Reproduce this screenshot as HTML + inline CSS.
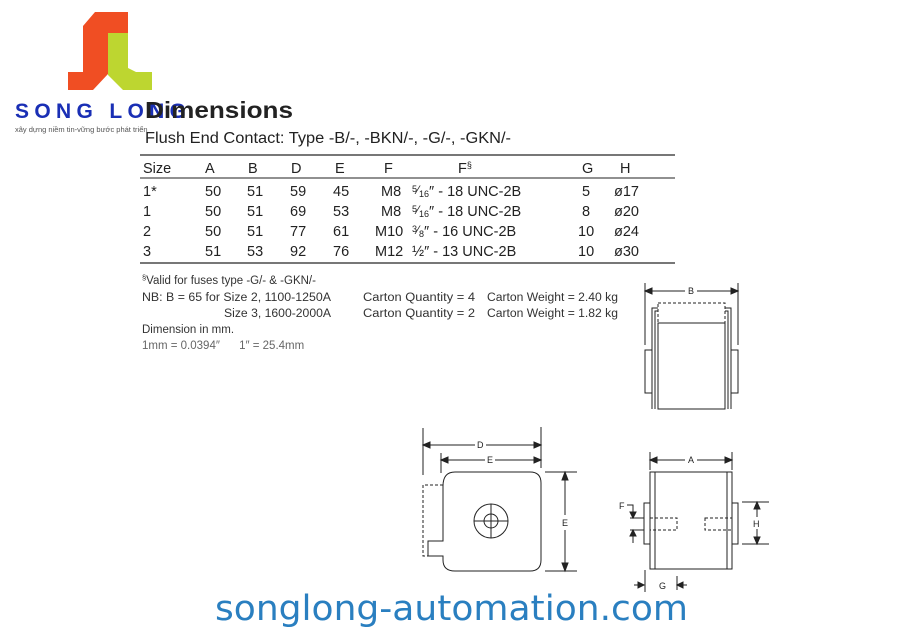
<!DOCTYPE html>
<html><head><meta charset="utf-8"><style>
body{margin:0;background:#fff;}
svg{display:block;font-family:"Liberation Sans",Arial,sans-serif;}
</style></head><body>
<svg width="907" height="644" viewBox="0 0 907 644">
<polygon points="95,12 128,12 128,33 108,33 108,74 93,90 68,90 68,72 83,72 83,26" fill="#f04e23"/>
<polygon points="108,33 128,33 128,68 136,72 152,72 152,90 123,90 108,75" fill="#bdd630"/>
<text x="15" y="118" font-size="21" font-weight="bold" fill="#1a2fb5" letter-spacing="6" textLength="177">SONG LONG</text>
<text x="15" y="132" font-size="7.5" fill="#555">xây dựng niềm tin-vững bước phát triển</text>
<text x="145" y="118" font-size="23" font-weight="bold" fill="#222" textLength="148" lengthAdjust="spacingAndGlyphs">Dimensions</text>
<text x="145" y="143" font-size="15.5" fill="#222" textLength="366" lengthAdjust="spacingAndGlyphs">Flush End Contact: Type -B/-, -BKN/-, -G/-, -GKN/-</text>
<line x1="140" y1="155" x2="675" y2="155" stroke="#777" stroke-width="2"/>
<line x1="140" y1="178" x2="675" y2="178" stroke="#222" stroke-width="1"/>
<line x1="140" y1="263" x2="675" y2="263" stroke="#777" stroke-width="2"/>
<g font-size="14.5" fill="#222">
<text x="143" y="173">Size</text><text x="205" y="173">A</text><text x="248" y="173">B</text><text x="291" y="173">D</text><text x="335" y="173">E</text><text x="384" y="173">F</text><text x="458" y="173">F<tspan font-size="9" dy="-5">§</tspan></text><text x="582" y="173">G</text><text x="620" y="173">H</text>
<text x="143" y="196">1*</text><text x="205" y="196">50</text><text x="247" y="196">51</text><text x="290" y="196">59</text><text x="333" y="196">45</text><text x="381" y="196">M8</text><text x="412" y="196"><tspan font-size="9" dy="-4">5</tspan><tspan font-size="12" dy="2">⁄</tspan><tspan font-size="9" dy="3">16</tspan><tspan dy="-1">″ - 18 UNC-2B</tspan></text><text x="582" y="196">5</text><text x="614" y="196">ø17</text>
<text x="143" y="216">1</text><text x="205" y="216">50</text><text x="247" y="216">51</text><text x="290" y="216">69</text><text x="333" y="216">53</text><text x="381" y="216">M8</text><text x="412" y="216"><tspan font-size="9" dy="-4">5</tspan><tspan font-size="12" dy="2">⁄</tspan><tspan font-size="9" dy="3">16</tspan><tspan dy="-1">″ - 18 UNC-2B</tspan></text><text x="582" y="216">8</text><text x="614" y="216">ø20</text>
<text x="143" y="236">2</text><text x="205" y="236">50</text><text x="247" y="236">51</text><text x="290" y="236">77</text><text x="333" y="236">61</text><text x="375" y="236">M10</text><text x="412" y="236"><tspan font-size="9" dy="-4">3</tspan><tspan font-size="12" dy="2">⁄</tspan><tspan font-size="9" dy="3">8</tspan><tspan dy="-1">″  - 16 UNC-2B</tspan></text><text x="578" y="236">10</text><text x="614" y="236">ø24</text>
<text x="143" y="256">3</text><text x="205" y="256">51</text><text x="247" y="256">53</text><text x="290" y="256">92</text><text x="333" y="256">76</text><text x="375" y="256">M12</text><text x="412" y="256">½″  - 13 UNC-2B</text><text x="578" y="256">10</text><text x="614" y="256">ø30</text>
</g>
<g font-size="11.5" fill="#333">
<text x="142" y="284"><tspan font-size="7.5" dy="-4">§</tspan><tspan dy="4">Valid for fuses type -G/- &amp; -GKN/-</tspan></text>
<text x="142" y="301" textLength="189" lengthAdjust="spacingAndGlyphs">NB: B = 65 for Size 2, 1100-1250A</text>
<text x="224" y="317" textLength="107" lengthAdjust="spacingAndGlyphs">Size 3, 1600-2000A</text>
<text x="363" y="301" textLength="112" lengthAdjust="spacingAndGlyphs">Carton Quantity = 4</text><text x="487" y="301" textLength="131" lengthAdjust="spacingAndGlyphs">Carton Weight = 2.40 kg</text>
<text x="363" y="317" textLength="112" lengthAdjust="spacingAndGlyphs">Carton Quantity = 2</text><text x="487" y="317" textLength="131" lengthAdjust="spacingAndGlyphs">Carton Weight = 1.82 kg</text>
<text x="142" y="333">Dimension in mm.</text>
<text x="142" y="349" fill="#666" xml:space="preserve">1mm = 0.0394″      1″ = 25.4mm</text>
</g>
<g stroke="#222" fill="none" stroke-width="1">
<line x1="645" y1="283" x2="645" y2="345"/><line x1="738" y1="283" x2="738" y2="345"/>
<line x1="647" y1="291" x2="685" y2="291"/><line x1="697" y1="291" x2="736" y2="291"/>
<polygon points="645,291 652,288 652,294" fill="#222"/><polygon points="738,291 731,288 731,294" fill="#222"/>
<path d="M652,409 V308 H658 M731,409 V308 H725"/>
<path d="M655,409 V311 H658 M728,409 V311 H725"/>
<rect x="658" y="323" width="67" height="86"/>
<rect x="658" y="303" width="67" height="20" stroke-dasharray="3,2"/>
<rect x="645" y="350" width="7" height="43"/><rect x="731" y="350" width="7" height="43"/>
<line x1="423" y1="428" x2="423" y2="475"/><line x1="541" y1="427" x2="541" y2="468"/><line x1="441" y1="453" x2="441" y2="473"/>
<line x1="425" y1="445" x2="475" y2="445"/><line x1="486" y1="445" x2="539" y2="445"/>
<polygon points="423,445 430,442 430,448" fill="#222"/><polygon points="541,445 534,442 534,448" fill="#222"/>
<line x1="443" y1="460" x2="485" y2="460"/><line x1="495" y1="460" x2="539" y2="460"/>
<polygon points="441,460 448,457 448,463" fill="#222"/><polygon points="541,460 534,457 534,463" fill="#222"/>
<path d="M455,472 H530 Q541,472 541,483 V560 Q541,571 530,571 H455 Q443,571 443,560 V556 H428 V541 H443 V486 Q443,472 455,472 Z"/>
<path d="M443,485 H423 V556 H428" stroke-dasharray="3,2"/>
<circle cx="491" cy="521" r="17"/><circle cx="491" cy="521" r="7"/>
<line x1="474" y1="521" x2="508" y2="521"/><line x1="491" y1="504" x2="491" y2="538"/>
<line x1="545" y1="472" x2="577" y2="472"/><line x1="545" y1="571" x2="577" y2="571"/>
<line x1="565" y1="474" x2="565" y2="515"/><line x1="565" y1="530" x2="565" y2="569"/>
<polygon points="565,472 562,480 568,480" fill="#222"/><polygon points="565,571 562,563 568,563" fill="#222"/>
<line x1="650" y1="452" x2="650" y2="470"/><line x1="732" y1="452" x2="732" y2="470"/>
<line x1="652" y1="460" x2="685" y2="460"/><line x1="697" y1="460" x2="730" y2="460"/>
<polygon points="650,460 657,457 657,463" fill="#222"/><polygon points="732,460 725,457 725,463" fill="#222"/>
<rect x="650" y="472" width="5" height="97"/><rect x="655" y="472" width="72" height="97"/><rect x="727" y="472" width="5" height="97"/>
<rect x="644" y="503" width="6" height="41"/><rect x="732" y="503" width="6" height="41"/>
<rect x="650" y="518" width="27" height="12" stroke-dasharray="3,2"/>
<rect x="705" y="518" width="27" height="12" stroke-dasharray="3,2"/>
<path d="M627,505 H633 V513"/><line x1="630" y1="518" x2="644" y2="518"/><line x1="630" y1="530" x2="644" y2="530"/>
<line x1="633" y1="533" x2="633" y2="543"/>
<polygon points="633,518 630,512 636,512" fill="#222"/><polygon points="633,530 630,536 636,536" fill="#222"/>
<line x1="742" y1="502" x2="769" y2="502"/><line x1="742" y1="544" x2="769" y2="544"/>
<line x1="757" y1="504" x2="757" y2="517"/><line x1="757" y1="529" x2="757" y2="542"/>
<polygon points="757,502 754,509 760,509" fill="#222"/><polygon points="757,544 754,537 760,537" fill="#222"/>
<line x1="634" y1="585" x2="644" y2="585"/><polygon points="644,585 638,582 638,588" fill="#222"/>
<line x1="677" y1="585" x2="687" y2="585"/><polygon points="677,585 683,582 683,588" fill="#222"/>
<line x1="645" y1="570" x2="645" y2="592"/><line x1="677" y1="576" x2="677" y2="590"/>
</g>
<g font-size="9" fill="#222">
<text x="688" y="294">B</text><text x="477" y="448">D</text><text x="487" y="463">E</text><text x="562" y="526">E</text>
<text x="688" y="463">A</text><text x="619" y="509">F</text><text x="753" y="527">H</text><text x="659" y="589">G</text>
</g>
<text x="215" y="620" font-size="35" fill="#2a7fc0" textLength="473" lengthAdjust="spacingAndGlyphs" font-family="DejaVu Sans, Liberation Sans, sans-serif">songlong-automation.com</text>
</svg>
</body></html>
